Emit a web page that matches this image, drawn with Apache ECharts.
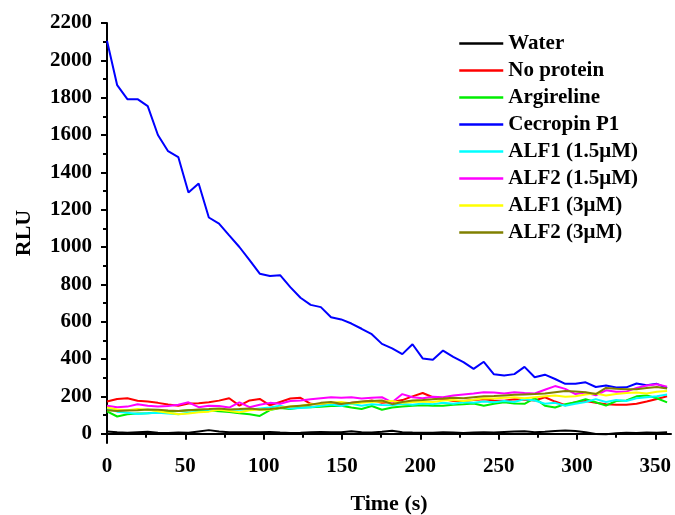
<!DOCTYPE html>
<html><head><meta charset="utf-8">
<script src="https://cdn.jsdelivr.net/npm/echarts@6/dist/echarts.min.js"></script>
<style>html,body{margin:0;padding:0;background:#fff}#c{width:675px;height:515px}</style>
</head><body><div id="c"></div>
<script>
const times = [0,6.5,13,19.5,26,32.5,39,45.5,52,58.5,65,71.5,78,84.5,91,97.5,104,110.5,117,123.5,130,136.5,143,149.5,156,162.5,169,175.5,182,188.5,195,201.5,208,214.5,221,227.5,234,240.5,247,253.5,260,266.5,273,279.5,286,292.5,299,305.5,312,318.5,325,331.5,338,344.5,351,357.5];
const seriesNames = ['Water','No protein','Argireline','Cecropin P1','ALF1 (1.5\u03bcM)','ALF2 (1.5\u03bcM)','ALF1 (3\u03bcM)','ALF2 (3\u03bcM)'];
const water = [12,8,5,8,10,5,4,6,5,12,19,12,8,8,7,8,9,6,4,5,8,9,7,8,13,8,6,10,15,8,6,5,5,7,6,4,6,8,6,9,11,13,8,10,14,17,14,8,-2,-3,2,5,4,6,5,8];
const noProtein = [172,186,190,176,172,165,156,150,162,163,168,177,190,150,178,186,152,170,188,192,160,155,157,159,165,170,178,165,170,180,200,218,195,185,175,175,180,185,178,176,184,182,178,195,172,152,168,175,166,158,155,155,160,172,186,200];
const argireline = [120,92,104,108,110,114,118,122,126,126,124,120,116,110,104,95,126,138,132,140,142,144,148,150,140,132,148,128,140,145,150,152,150,150,155,158,162,150,160,168,162,160,190,150,140,158,168,185,168,150,175,178,200,205,190,168];
const cecropin = [2105,1867,1792,1792,1755,1600,1513,1482,1292,1340,1158,1125,1062,1000,930,857,845,849,785,728,690,678,624,612,590,562,533,481,457,426,479,403,396,445,411,383,347,385,318,311,319,358,302,316,293,267,267,275,250,258,247,248,269,259,267,244];
const alf1Low = [135,118,112,105,110,112,108,104,112,118,122,128,125,130,128,135,140,150,135,138,142,150,156,148,160,150,158,154,152,160,155,162,158,165,160,168,165,172,168,175,170,185,178,160,165,150,160,170,185,170,180,175,190,195,200,210];
const alf2Low = [150,142,145,158,150,145,148,155,168,142,150,148,140,168,142,155,165,160,175,178,185,190,195,192,195,188,192,195,168,212,195,190,198,195,205,210,215,222,220,215,222,218,215,235,255,240,212,220,205,232,225,225,245,258,265,252];
const alf1High = [140,130,125,132,128,120,112,104,108,115,118,128,122,115,125,130,128,140,145,150,158,160,165,170,162,165,170,172,175,165,170,172,170,178,180,175,182,190,188,192,195,190,195,200,205,198,200,210,215,205,212,218,220,215,225,228];
const alf2High = [125,122,124,126,130,128,124,122,126,130,132,135,130,132,135,130,132,138,145,150,155,165,170,160,165,172,175,178,158,170,178,180,185,188,192,190,195,200,202,205,208,210,212,215,222,228,226,222,212,245,240,238,238,245,250,242];
const yLabelValues = [0,200,400,600,800,1000,1200,1400,1600,1800,2000,2200];
const yMinorValues = [100,300,500,700,900,1100,1300,1500,1700,1900,2100];
const xLabelValues = [0,50,100,150,200,250,300,350];
const xMinorValues = [25,75,125,175,225,275,325];

const allData = [water,noProtein,argireline,cecropin,alf1Low,alf2Low,alf1High,alf2High];
const colors = ['#000000','#ff0000','#00ee00','#0000ff','#00ffff','#ff00ff','#ffff00','#808000'];
const font = '"Liberation Serif","Times New Roman",serif';

const chart = echarts.init(document.getElementById('c'), null, {renderer:'canvas'});
const axisCommon = {
  axisLine:{show:true,lineStyle:{color:'#000',width:2}},
  splitLine:{show:false},
};
const plain = v => String(v);
chart.setOption({
  animation:false,
  backgroundColor:'#fff',
  grid:{left:107,right:4,top:23,bottom:72,containLabel:false,outerBoundsMode:'none'},
  legend:{
    data:seriesNames, orient:'vertical', left:458, top:33, padding:0,
    itemWidth:44, itemHeight:14, itemGap:6,
    itemStyle:{color:'rgba(0,0,0,0)',borderWidth:0,opacity:0},
    lineStyle:{width:2.5},
    textStyle:{fontFamily:font,fontWeight:'bold',fontSize:21,color:'#000'}
  },
  xAxis:[{
    type:'value', min:0, max:360, ...axisCommon,
    axisTick:{show:true,inside:false,length:6,lineStyle:{color:'#000',width:2},customValues:xLabelValues},
    axisLabel:{customValues:xLabelValues,formatter:plain,color:'#000',fontFamily:font,fontWeight:'bold',fontSize:21,margin:13},
    name:'Time (s)', nameLocation:'middle', nameGap:50,
    nameTextStyle:{fontFamily:font,fontWeight:'bold',fontSize:22,color:'#000'}
  },{
    type:'value', min:0, max:360, position:'bottom',
    axisLine:{show:false}, splitLine:{show:false}, axisLabel:{show:false},
    axisTick:{show:true,length:4,lineStyle:{color:'#000',width:2},customValues:xMinorValues}
  }],
  yAxis:[{
    type:'value', min:-50, max:2200, ...axisCommon,
    axisTick:{show:true,inside:false,length:6,lineStyle:{color:'#000',width:2},customValues:yLabelValues},
    axisLabel:{customValues:yLabelValues,formatter:plain,color:'#000',fontFamily:font,fontWeight:'bold',fontSize:21,margin:15},
    name:'RLU', nameLocation:'middle', nameGap:72, nameRotate:90,
    nameTextStyle:{fontFamily:font,fontWeight:'bold',fontSize:22,color:'#000'}
  },{
    type:'value', min:-50, max:2200, position:'left',
    axisLine:{show:false}, splitLine:{show:false}, axisLabel:{show:false},
    axisTick:{show:true,length:4,lineStyle:{color:'#000',width:2},customValues:yMinorValues}
  }],
  series: allData.map((d,k)=>({
    name:seriesNames[k], type:'line', xAxisIndex:0, yAxisIndex:0,
    data: times.map((t,i)=>[t,d[i]]),
    showSymbol:false, symbol:'none', smooth:false,
    lineStyle:{color:colors[k],width:2}, itemStyle:{color:colors[k]},
    emphasis:{disabled:true}, z:2
  }))
});
</script></body></html>
